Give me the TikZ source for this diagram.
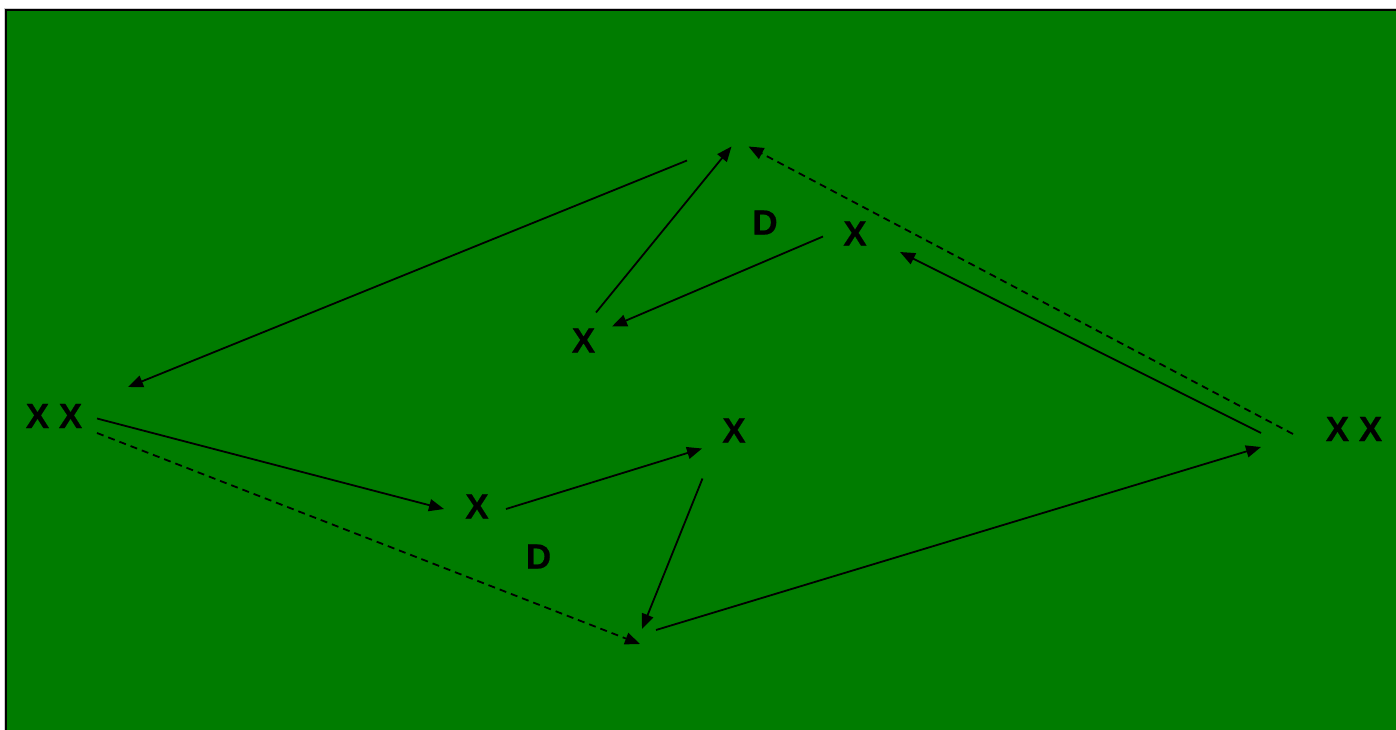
\documentclass[tikz,border=0pt]{standalone}
\usepackage{fontspec}
\setmainfont{Liberation Sans}
\newfontfamily\labfont{Liberation Sans}[UprightFont=* Bold, FakeBold=0.6]
\usetikzlibrary{arrows.meta}
\definecolor{bggreen}{RGB}{0,124,0}
\tikzset{
  lab/.style={inner sep=0pt, font=\labfont\fontsize{35}{35}\selectfont},
  conn/.style={line width=1.8pt, -{Triangle[length=15pt,width=12pt]}},
  dconn/.style={conn, dash pattern=on 7pt off 5pt}
}
\begin{document}
\begin{tikzpicture}[x=1pt,y=-1pt]
\useasboundingbox (0,0) rectangle (1396,730);
\clip (0,0) rectangle (1396,730);
\draw[line width=0.6pt, gray!40] (4.5,8) -- (1400,8);
\draw[line width=0.6pt, gray!40] (4.5,8) -- (4.5,740);
\draw[fill=bggreen, line width=2.4pt] (6.2,10.2) rectangle (1405,740);

% labels
\node[lab] (xxl) at (54,416) {X X};
\node[lab] (xxr) at (1354,429) {X X};
\node[lab] (xa) at (583.5,340.5) {X};
\node[lab] (xb) at (855,233.5) {X};
\node[lab] (xc) at (734,430.5) {X};
\node[lab] (xd) at (477,506.5) {X};
\node[lab] (da) at (765,222.5) {D};
\node[lab] (db) at (538.5,556.5) {D};

% connector end points
\coordinate (t1s) at (687,160.5);
\coordinate (t1e) at (128,387);
\coordinate (a2s) at (596,312.5);
\coordinate (top) at (731.5,146.5);
\coordinate (a3s) at (823,236.5);
\coordinate (a3e) at (612,326.5);
\coordinate (a4s) at (1293,434);
\coordinate (a4e) at (748.5,146.5);
\coordinate (a5s) at (1261,433);
\coordinate (a5e) at (900,252);
\coordinate (a6s) at (97,418.5);
\coordinate (a6e) at (444,509);
\coordinate (a7s) at (97,433);
\coordinate (a7e) at (640,644);
\coordinate (a8s) at (506,509);
\coordinate (a8e) at (702,448.5);
\coordinate (a9s) at (702.5,478.5);
\coordinate (a9e) at (642,629);
\coordinate (a10s) at (656,630);
\coordinate (a10e) at (1261,447);

\draw[conn] (t1s) -- (t1e);
\draw[conn] (a2s) -- (top);
\draw[conn] (a3s) -- (a3e);
\draw[dconn] (a4s) -- (a4e);
\draw[conn] (a5s) -- (a5e);
\draw[conn] (a6s) -- (a6e);
\draw[dconn] (a7s) -- (a7e);
\draw[conn] (a8s) -- (a8e);
\draw[conn] (a9s) -- (a9e);
\draw[conn] (a10s) -- (a10e);
\end{tikzpicture}
\end{document}
